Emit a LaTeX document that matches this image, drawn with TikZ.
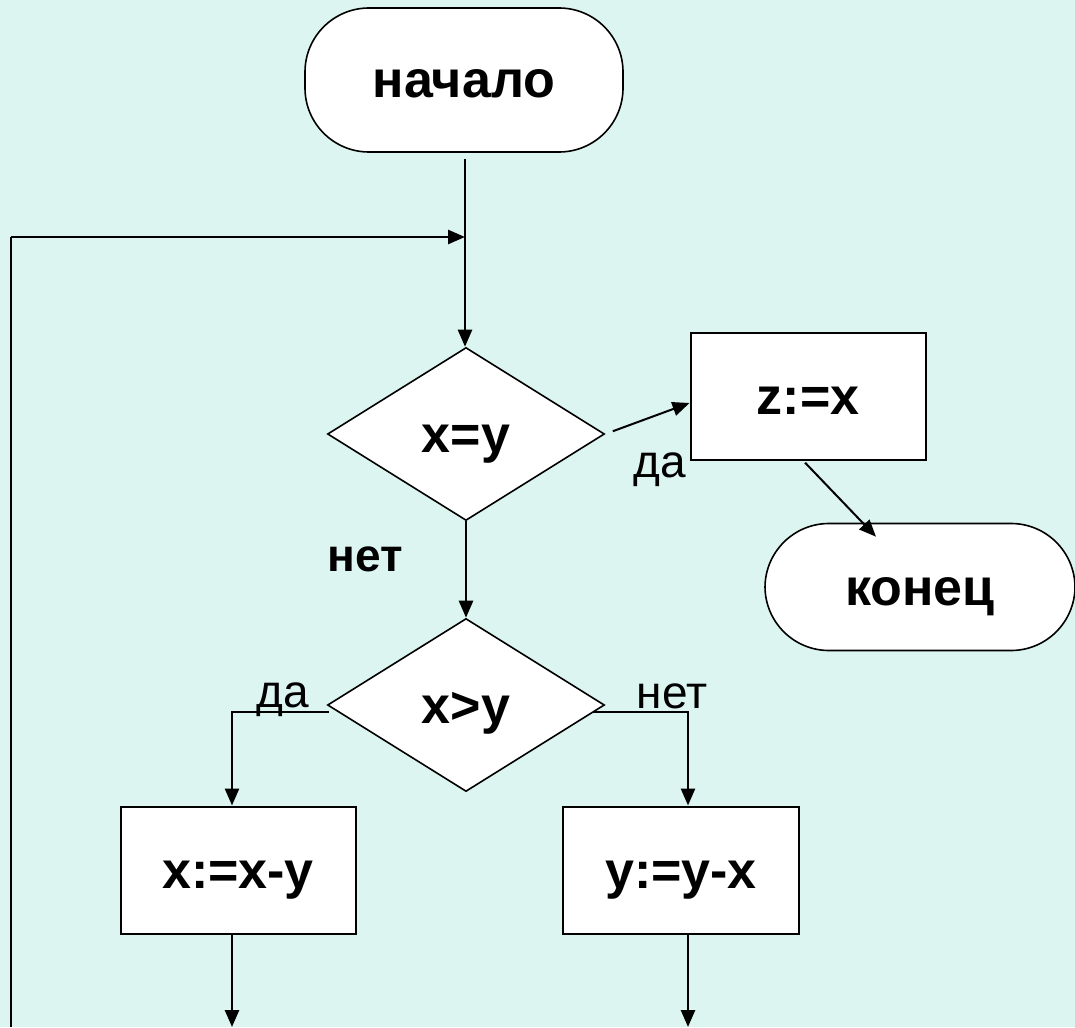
\documentclass[tikz,border=0pt]{standalone}
\usepackage{fontspec}
\setmainfont{Liberation Sans}
\usetikzlibrary{shapes.geometric,arrows.meta}
\definecolor{bgmint}{RGB}{220,245,240}
\tikzset{
  x=1pt, y=1pt,
  every node/.style={inner sep=0pt},
  blocktext/.style={font=\bfseries\fontsize{52}{60}\selectfont,
    text height=47pt, text depth=11pt},
  term/.style={draw, line width=1.6pt, fill=white, rectangle, rounded corners=64pt,
    blocktext},
  proc/.style={draw, line width=2pt, fill=white, rectangle,
    minimum width=235pt, minimum height=127pt, blocktext},
  cond/.style={draw, line width=1.6pt, fill=white, diamond,
    minimum width=277pt, minimum height=173pt, blocktext},
  flow/.style={line width=2.6pt, -{Triangle[length=17pt,width=14pt]}},
  plainline/.style={line width=2.6pt},
  lbl/.style={font=\fontsize{46}{54}\selectfont},
  lblb/.style={font=\bfseries\fontsize{46}{54}\selectfont},
}
\begin{document}
\begin{tikzpicture}
  % canvas
  \fill[bgmint] (0,0) rectangle (1075,-1027);
  \useasboundingbox (0,0) rectangle (1075,-1027);

  % blocks
  \node[term, minimum width=318pt, minimum height=144pt] (start) at (464,-80) {начало};
  \node[cond] (d1) at (466,-434) {x=y};
  \node[proc] (zx) at (808,-396) {z:=x};
  \node[term, minimum width=310pt, minimum height=127pt] (stop) at (920,-587) {конец};
  \node[cond] (d2) at (466,-705) {x>y};
  \node[proc] (b1) at (238,-870) {x:=x-y};
  \node[proc, minimum width=236pt] (b2) at (681,-870) {y:=y-x};

  % helper points of the loop
  \coordinate (loopfoot) at (11,-1027);
  \coordinate (loopcorner) at (11,-237);
  \coordinate (merge) at (465,-237);
  \coordinate (b1out) at (232,-1027);
  \coordinate (b2out) at (688,-1027);

  % connectors
  \draw[flow, shorten <=6pt] ([xshift=1pt]start.south) -- ([xshift=-1pt]d1.north);
  \draw[plainline] (loopfoot) -- (loopcorner);
  \draw[flow] (loopcorner) -- (merge);
  \draw[line width=2pt, -{Triangle[length=17pt,width=14pt]}, shorten <=8pt]
    (d1.east) -- ([yshift=-7pt]zx.west);
  \draw[line width=2pt, -{Triangle[length=17pt,width=14pt]}, shorten <=3pt]
    ([xshift=-5pt]zx.south) -- ([xshift=-44pt,yshift=-14pt]stop.north);
  \draw[flow] (d1.south) -- (d2.north);
  \draw[flow] ([xshift=2pt,yshift=-7pt]d2.west) -| ([xshift=-6pt]b1.north);
  \draw[flow] ([xshift=-12pt,yshift=-7pt]d2.east) -| ([xshift=7pt]b2.north);
  \draw[flow] ([xshift=-6pt]b1.south) -- (b1out);
  \draw[flow] ([xshift=7pt]b2.south) -- (b2out);

  % branch labels
  \node[lbl] (yes1) at (660,-470) {да};
  \node[lblb] (no1) at (365,-559) {нет};
  \node[lbl] (yes2) at (283,-700) {да};
  \node[lbl] (no2) at (672,-696) {нет};
\end{tikzpicture}
\end{document}
